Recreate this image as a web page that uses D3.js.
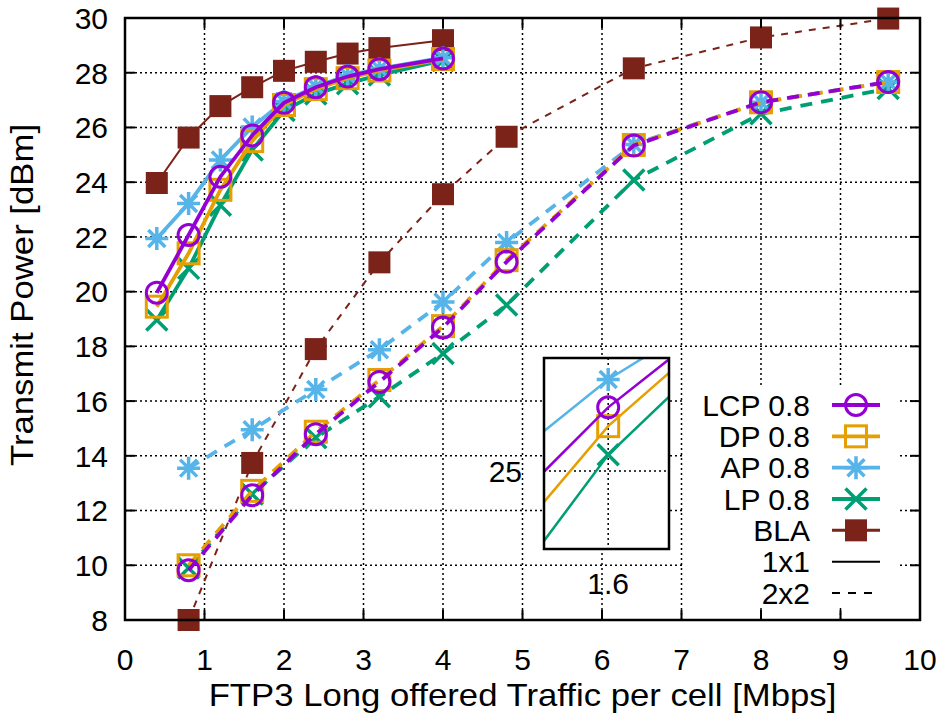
<!DOCTYPE html>
<html><head><meta charset="utf-8">
<script src="https://cdn.jsdelivr.net/npm/d3@7"></script>
<style>body{margin:0;background:#fff}svg{display:block}text{font-family:"Liberation Sans",Arial,Helvetica,sans-serif;fill:#000}</style>
</head><body><svg id="c" width="945" height="728"></svg>
<script>
// ---- data ----
const x1x1 = [0.4,0.8,1.2,1.6,2.0,2.4,2.8,3.2,4.0];
const lcp1 = [19.96,22.07,24.2,25.71,26.9,27.47,27.86,28.13,28.52];
const dp1  = [19.45,21.4,23.72,25.5,26.82,27.4,27.8,28.08,28.5];
const ap1  = [21.94,23.22,24.81,26.02,26.95,27.5,27.9,28.15,28.55];
const lp1  = [18.96,20.85,23.16,25.18,26.62,27.22,27.6,27.92,28.45];
const bla1 = [23.97,25.63,26.78,27.47,28.07,28.4,28.7,28.9,29.19];

const x2x2 = [0.8,1.6,2.4,3.2,4.0,4.8,6.4,8.0,9.6];
const lcp2 = [9.82,12.56,14.79,16.7,18.69,21.09,25.34,26.92,27.66];
const dp2  = [10.0,12.72,14.88,16.77,18.74,21.15,25.36,26.92,27.66];
const ap2  = [13.55,14.95,16.42,17.88,19.62,21.8,25.38,26.92,27.66];
const lp2  = [9.9,12.6,14.66,16.16,17.74,19.51,24.08,26.5,27.42];
const bla2 = [8.0,13.74,17.9,21.07,23.56,25.66,28.16,29.29,29.98];

const xTicks = [0,1,2,3,4,5,6,7,8,9,10];
const yTicks = [8,10,12,14,16,18,20,22,24,26,28,30];
const seriesNames = ["LCP 0.8","DP 0.8","AP 0.8","LP 0.8","BLA"];
const layoutNames = ["1x1","2x2"];
const insetXTick = [1.6];
const insetYTick = [25];

// ---- styles ----
const colors = {"LCP 0.8":"#9400d3","DP 0.8":"#e69f00","AP 0.8":"#56b4e9","LP 0.8":"#009e73","BLA":"#7b2219"};
const markers = {"LCP 0.8":"circle","DP 0.8":"square","AP 0.8":"star","LP 0.8":"cross","BLA":"fsquare"};
const data1 = {"LCP 0.8":lcp1,"DP 0.8":dp1,"AP 0.8":ap1,"LP 0.8":lp1,"BLA":bla1};
const data2 = {"LCP 0.8":lcp2,"DP 0.8":dp2,"AP 0.8":ap2,"LP 0.8":lp2,"BLA":bla2};
const drawOrder = ["BLA","LP 0.8","AP 0.8","DP 0.8","LCP 0.8"];

const svg = d3.select("#c");
const L=125,R=920,T=18,B=620;
const x = d3.scaleLinear().domain([0,10]).range([L,R]);
const y = d3.scaleLinear().domain([8,30]).range([B,T]);
const FS = 30;   // tick / legend text
const FL = 31;   // axis titles (stretched horizontally)

// grid
const grid = svg.append("g");
grid.selectAll(".gx").data(xTicks.slice(1,-1)).join("line")
  .attr("x1",d=>x(d)).attr("x2",d=>x(d)).attr("y1",T).attr("y2",B)
  .attr("stroke","#000").attr("stroke-width",1.5).attr("stroke-dasharray","2,3");
grid.selectAll(".gy").data(yTicks.slice(1,-1)).join("line")
  .attr("y1",d=>y(d)).attr("y2",d=>y(d)).attr("x1",L).attr("x2",R)
  .attr("stroke","#000").attr("stroke-width",1.5).attr("stroke-dasharray","2,3");

function marker(g, type, cx, cy, col, s){
  s = s||1;
  if(type==="circle"){
    g.append("circle").attr("cx",cx).attr("cy",cy).attr("r",10.5*s).attr("fill","none").attr("stroke",col).attr("stroke-width",3);
  } else if(type==="square"){
    g.append("rect").attr("x",cx-10.5*s).attr("y",cy-10.5*s).attr("width",21*s).attr("height",21*s).attr("fill","none").attr("stroke",col).attr("stroke-width",3);
  } else if(type==="fsquare"){
    g.append("rect").attr("x",cx-11*s).attr("y",cy-11*s).attr("width",22*s).attr("height",22*s).attr("fill",col);
  } else if(type==="cross"){
    const a=10.5*s;
    g.append("path").attr("d",`M${cx-a},${cy-a}L${cx+a},${cy+a}M${cx-a},${cy+a}L${cx+a},${cy-a}`).attr("stroke",col).attr("stroke-width",3.5).attr("fill","none");
  } else if(type==="star"){
    const a=11.5*s, b=8.5*s;
    g.append("path").attr("d",`M${cx-a},${cy}L${cx+a},${cy}M${cx},${cy-a}L${cx},${cy+a}M${cx-b},${cy-b}L${cx+b},${cy+b}M${cx-b},${cy+b}L${cx+b},${cy-b}`).attr("stroke",col).attr("stroke-width",3.5).attr("fill","none");
  }
}

const plot = svg.append("g");
function drawSeries(g, xs, ys, name, dashed, xs_, ys_){
  const col = colors[name];
  const isBla = name==="BLA";
  const line = d3.line().x((d,i)=>xs_(xs[i])).y(d=>ys_(d));
  g.append("path").attr("d",line(ys)).attr("fill","none").attr("stroke",col)
    .attr("stroke-width", isBla?2:3.8)
    .attr("stroke-dasharray", dashed ? (isBla?"7,7":"12,9") : null);
  ys.forEach((v,i)=>marker(g, markers[name], xs_(xs[i]), ys_(v), col));
}
drawOrder.forEach(n=>{
  drawSeries(plot, x1x1, data1[n], n, false, x, y);
  drawSeries(plot, x2x2, data2[n], n, true, x, y);
});

// border + ticks
const ax = svg.append("g");
ax.append("rect").attr("x",L).attr("y",T).attr("width",R-L).attr("height",B-T).attr("fill","none").attr("stroke","#000").attr("stroke-width",2.5);
xTicks.forEach(t=>{
  ax.append("line").attr("x1",x(t)).attr("x2",x(t)).attr("y1",B).attr("y2",B-10).attr("stroke","#000").attr("stroke-width",2);
  ax.append("line").attr("x1",x(t)).attr("x2",x(t)).attr("y1",T).attr("y2",T+10).attr("stroke","#000").attr("stroke-width",2);
  ax.append("text").attr("x",x(t)).attr("y",670).attr("text-anchor","middle").attr("font-size",FS).text(t);
});
yTicks.forEach(t=>{
  ax.append("line").attr("x1",L).attr("x2",L+10).attr("y1",y(t)).attr("y2",y(t)).attr("stroke","#000").attr("stroke-width",2);
  ax.append("line").attr("x1",R).attr("x2",R-10).attr("y1",y(t)).attr("y2",y(t)).attr("stroke","#000").attr("stroke-width",2);
  ax.append("text").attr("x",L-17).attr("y",y(t)).attr("dy","0.36em").attr("text-anchor","end").attr("font-size",FS).text(t);
});
ax.append("text").attr("transform",`translate(${(L+R)/2},706) scale(1.12,1)`).attr("text-anchor","middle").attr("font-size",FL).text("FTP3 Long offered Traffic per cell [Mbps]");
ax.append("text").attr("transform",`translate(33,295) rotate(-90) scale(1.12,1)`).attr("text-anchor","middle").attr("font-size",FL).text("Transmit Power [dBm]");

// inset
const IL=544, IR=669, IT=358, IB=549;
const xi = d3.scaleLinear().domain([1.41,1.78]).range([IL,IR]);
const yi = d3.scaleLinear().domain([24.13,26.26]).range([IB,IT]);
const ins = svg.append("g");
ins.append("rect").attr("x",IL).attr("y",IT).attr("width",IR-IL).attr("height",IB-IT).attr("fill","#fff");
svg.append("clipPath").attr("id","ic").append("rect").attr("x",IL).attr("y",IT).attr("width",IR-IL).attr("height",IB-IT);
const insC = ins.append("g").attr("clip-path","url(#ic)");
insetXTick.forEach(t=>insC.append("line").attr("x1",xi(t)).attr("x2",xi(t)).attr("y1",IT).attr("y2",IB).attr("stroke","#000").attr("stroke-width",1.5).attr("stroke-dasharray","2,3"));
insetYTick.forEach(t=>insC.append("line").attr("y1",yi(t)).attr("y2",yi(t)).attr("x1",IL).attr("x2",IR).attr("stroke","#000").attr("stroke-width",1.5).attr("stroke-dasharray","2,3"));
["LP 0.8","AP 0.8","DP 0.8","LCP 0.8"].forEach(n=>{
  const col=colors[n];
  const line = d3.line().x((d,i)=>xi(x1x1[i])).y(d=>yi(d));
  insC.append("path").attr("d",line(data1[n])).attr("fill","none").attr("stroke",col).attr("stroke-width",2.5);
  data1[n].forEach((v,i)=>{ if(x1x1[i]===1.6) marker(insC, markers[n], xi(x1x1[i]), yi(v), col); });
});
ins.append("rect").attr("x",IL).attr("y",IT).attr("width",IR-IL).attr("height",IB-IT).attr("fill","none").attr("stroke","#000").attr("stroke-width",2.5);
insetYTick.forEach(t=>ins.append("text").attr("x",IL-22).attr("y",yi(t)).attr("dy","0.36em").attr("text-anchor","end").attr("font-size",FS).text(t));
insetXTick.forEach(t=>ins.append("text").attr("x",xi(t)).attr("y",594).attr("text-anchor","middle").attr("font-size",FS).text(t));

// legend
const lg = svg.append("g");
lg.append("rect").attr("x",684).attr("y",387).attr("width",214).attr("height",220).attr("fill","#fff");
const rowY = d3.scaleLinear().domain([0,6]).range([405,593]);
seriesNames.forEach((n,i)=>{
  const yy=rowY(i);
  lg.append("text").attr("x",810).attr("y",yy).attr("dy","0.36em").attr("text-anchor","end").attr("font-size",FS).text(n);
  lg.append("line").attr("x1",832).attr("x2",880).attr("y1",yy).attr("y2",yy).attr("stroke",colors[n]).attr("stroke-width",n==="BLA"?3:3.8);
  marker(lg, markers[n], 856, yy, colors[n]);
});
layoutNames.forEach((n,j)=>{
  const yy=rowY(5+j);
  lg.append("text").attr("x",810).attr("y",yy).attr("dy","0.36em").attr("text-anchor","end").attr("font-size",FS).text(n);
  lg.append("line").attr("x1",832).attr("x2",880).attr("y1",yy).attr("y2",yy).attr("stroke","#000").attr("stroke-width",2).attr("stroke-dasharray", j===1?"8,8":null);
});
</script></body></html>
